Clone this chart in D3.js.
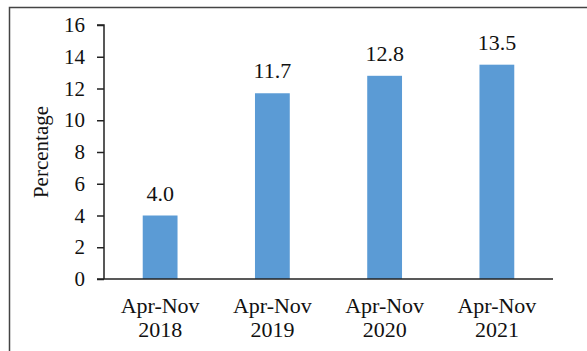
<!DOCTYPE html>
<html>
<head>
<meta charset="utf-8">
<script src="https://cdn.jsdelivr.net/npm/d3@7"></script>
<style>
  html, body { margin: 0; padding: 0; background: #fff; }
  svg { display: block; }
</style>
</head>
<body>
<svg id="chart" width="587" height="351"></svg>
<script>
// Share over Apr-Nov periods
const periods = ["Apr-Nov 2018", "Apr-Nov 2019", "Apr-Nov 2020", "Apr-Nov 2021"];
const values = [4.0, 11.7, 12.8, 13.5];
const yTicks = [0, 2, 4, 6, 8, 10, 12, 14, 16];
const yTitle = "Percentage";

const svg = d3.select("#chart");
const font = "'Liberation Serif', 'Times New Roman', serif";

// chart frame
svg.append("rect")
  .attr("x", 9.5).attr("y", 7.5)
  .attr("width", 600).attr("height", 400)
  .attr("fill", "none").attr("stroke", "#444").attr("stroke-width", 1.5);

const x0 = 104, x1 = 553, yBottom = 279, yTop = 25;

const x = d3.scaleBand()
  .domain(periods)
  .range([x0, x1])
  .paddingInner(0.69)
  .paddingOuter(0.345);

const y = d3.scaleLinear().domain([0, 16]).range([yBottom, yTop]);

// y axis
const yAxis = svg.append("g")
  .attr("transform", `translate(${x0},0)`)
  .call(d3.axisLeft(y).tickValues(yTicks).tickSize(7).tickPadding(12).tickFormat(d3.format("d")));
yAxis.select(".domain").attr("stroke", "#222").attr("stroke-width", 1.5).attr("d", `M-7,${yTop}H0V${yBottom}`);
yAxis.selectAll(".tick line").attr("stroke", "#222").attr("stroke-width", 1.5);
yAxis.selectAll(".tick text")
  .attr("font-family", font).attr("font-size", 21).attr("fill", "#111");

// bars
svg.append("g").selectAll("rect")
  .data(values)
  .join("rect")
  .attr("x", (d, i) => x(periods[i]))
  .attr("y", d => y(d))
  .attr("width", x.bandwidth())
  .attr("height", d => y(0) - y(d))
  .attr("fill", "#5b9bd5");

// x axis line
svg.append("line")
  .attr("x1", x0 - 7).attr("x2", x1)
  .attr("y1", yBottom).attr("y2", yBottom)
  .attr("stroke", "#222").attr("stroke-width", 1.5);

// value labels
svg.append("g").selectAll("text")
  .data(values)
  .join("text")
  .attr("x", (d, i) => x(periods[i]) + x.bandwidth() / 2)
  .attr("y", d => y(d) - 15)
  .attr("text-anchor", "middle")
  .attr("font-family", font).attr("font-size", 22).attr("fill", "#111")
  .text(d => d.toFixed(1));

// category labels on two lines
const cat = svg.append("g").selectAll("text")
  .data(periods)
  .join("text")
  .attr("text-anchor", "middle")
  .attr("font-family", font).attr("font-size", 22).attr("fill", "#111");
cat.each(function(d) {
  const parts = d.split(" ");
  const cx = x(d) + x.bandwidth() / 2;
  d3.select(this).append("tspan").attr("x", cx).attr("y", 313).text(parts[0]);
  d3.select(this).append("tspan").attr("x", cx).attr("y", 337).text(parts[1]);
});

// y title
svg.append("text")
  .attr("transform", `translate(48,${(yTop + yBottom) / 2}) rotate(-90)`)
  .attr("text-anchor", "middle")
  .attr("font-family", font).attr("font-size", 21).attr("fill", "#111")
  .text(yTitle);
</script>
</body>
</html>
